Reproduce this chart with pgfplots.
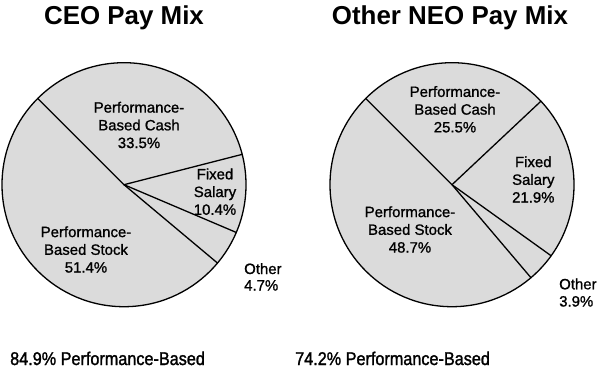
\documentclass[border=0pt]{standalone}
\usepackage{pgfplots}
\pgfplotsset{compat=1.18}
\usepgfplotslibrary{polar}
\usepackage{fontspec}
\setmainfont{Liberation Sans}
\newfontfamily\medfont{Liberation Sans}[FakeBold=1.1]
\newfontfamily\botfont{Liberation Sans}[FakeBold=1.6]
\definecolor{piegray}{gray}{0.86}

% Pay mix shares (percent)
\def\ceoCash{33.5}\def\ceoFixed{10.4}\def\ceoOther{4.7}\def\ceoStock{51.4}
\def\neoCash{25.5}\def\neoFixed{21.9}\def\neoOther{3.9}\def\neoStock{48.7}
\def\startangle{135}

\pgfplotsset{
  pie/.style={
    scale only axis, width=244bp, height=244bp,
    xmin=0, xmax=360, ymin=0, ymax=1,
    xtick=\empty, ytick=\empty, grid=none,
    separate axis lines,
    x axis line style={black, line width=1.3bp},
    y axis line style={draw=none},
    axis background/.style={fill=piegray},
    anchor=origin, clip=false,
  },
  edge/.style={black, line width=1.3bp, no markers, line cap=round},
}

\begin{document}
\begin{tikzpicture}[x=1bp,y=1bp]
\path[use as bounding box] (0,0) rectangle (598,368);

\pgfmathsetmacro\ca{\startangle}
\pgfmathsetmacro\cb{\ca-3.6*\ceoCash}
\pgfmathsetmacro\cc{\cb-3.6*\ceoFixed}
\pgfmathsetmacro\cd{\cc-3.6*\ceoOther}
\pgfmathsetmacro\na{\startangle}
\pgfmathsetmacro\nb{\na-3.6*\neoCash}
\pgfmathsetmacro\nc{\nb-3.6*\neoFixed}
\pgfmathsetmacro\nd{\nc-3.6*\neoOther}

\begin{polaraxis}[pie, at={(124bp,183.3bp)}]
\addplot[edge] coordinates {(0,0) (\ca,1)};
\addplot[edge] coordinates {(0,0) (\cb,1)};
\addplot[edge] coordinates {(0,0) (\cc,1)};
\addplot[edge] coordinates {(0,0) (\cd,1)};
\end{polaraxis}

\begin{polaraxis}[pie, at={(452bp,183.3bp)}]
\addplot[edge] coordinates {(0,0) (\na,1)};
\addplot[edge] coordinates {(0,0) (\nb,1)};
\addplot[edge] coordinates {(0,0) (\nc,1)};
\addplot[edge] coordinates {(0,0) (\nd,1)};
\end{polaraxis}

\tikzset{lab/.style={align=center, font=\medfont\fontsize{15}{17.8}\selectfont, inner sep=0pt}}
% titles
\node[anchor=base, font=\fontsize{26}{30}\selectfont\bfseries] at (124,343.7) {CEO Pay Mix};
\node[anchor=base, font=\fontsize{26}{30}\selectfont\bfseries] at (450,343.7) {Other NEO Pay Mix};

% CEO labels
\node[lab] at (139,243) {Performance-\\Based Cash\\33.5\%};
\node[lab] at (215,176.3) {Fixed\\Salary\\10.4\%};
\node[lab] at (86,118.5) {Performance-\\Based Stock\\51.4\%};
\node[lab, anchor=base west] at (244,94) {Other};
\node[lab, anchor=base west] at (244,77.5) {4.7\%};

% NEO labels
\node[lab] at (455,258.7) {Performance-\\Based Cash\\25.5\%};
\node[lab] at (533.3,188.5) {Fixed\\Salary\\21.9\%};
\node[lab] at (410,138.5) {Performance-\\Based Stock\\48.7\%};
\node[lab, anchor=base west] at (559,78.7) {Other};
\node[lab, anchor=base west] at (559,61.5) {3.9\%};

% bottom
\node[anchor=base west, inner sep=0pt, font=\botfont\fontsize{18.5}{22}\selectfont] at (10,3) {\scalebox{0.88}[1]{84.9\% Performance-Based}};
\node[anchor=base west, inner sep=0pt, font=\botfont\fontsize{18.5}{22}\selectfont] at (295,3) {\scalebox{0.88}[1]{74.2\% Performance-Based}};
\end{tikzpicture}
\end{document}
